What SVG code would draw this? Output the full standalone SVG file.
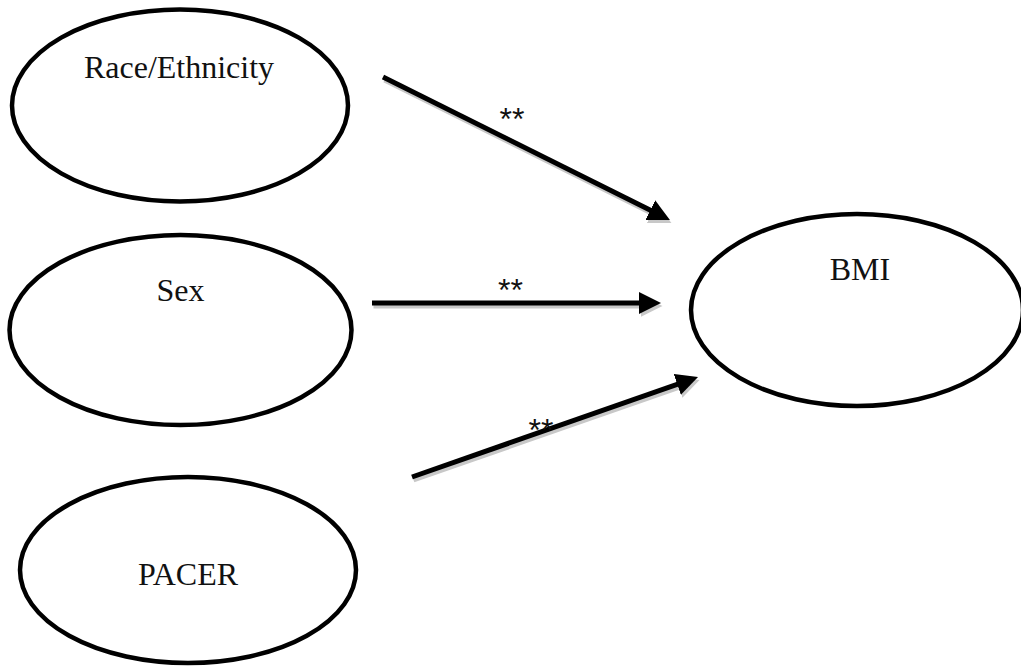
<svg xmlns="http://www.w3.org/2000/svg" width="1021" height="667" viewBox="0 0 1021 667">
<style>
.node{fill:#fff;stroke:#000;stroke-width:4.5}
.lbl{font-family:"Liberation Serif","Times New Roman",serif;font-size:32px;fill:#111;text-anchor:middle}
.star{font-family:"Liberation Sans",Arial,sans-serif;font-size:32px;fill:#111;text-anchor:middle}
.edge{stroke:#000;stroke-width:5;fill:none;marker-end:url(#ah)}
.shadow{stroke:#c8c8c8;stroke-width:5;fill:none;marker-end:url(#ahs)}
</style>
<defs>
<marker id="ah" markerUnits="strokeWidth" markerWidth="4.6" markerHeight="4.6" refX="2.4" refY="2.2" orient="auto" viewBox="0 0 4.6 4.6">
<path d="M0,0 L4.4,2.2 L0,4.4 z" fill="#000"/>
</marker>
<marker id="ahs" markerUnits="strokeWidth" markerWidth="4.6" markerHeight="4.6" refX="2.4" refY="2.2" orient="auto" viewBox="0 0 4.6 4.6">
<path d="M0,0 L4.4,2.2 L0,4.4 z" fill="#c8c8c8"/>
</marker>
</defs>
<rect width="1021" height="667" fill="#fff"/>
<g id="race">
<ellipse class="node" cx="180" cy="105.5" rx="168" ry="96"/>
<text class="lbl" x="179" y="78">Race/Ethnicity</text>
</g>
<g id="sex">
<ellipse class="node" cx="180.5" cy="330" rx="171" ry="95"/>
<text class="lbl" x="180.5" y="301">Sex</text>
</g>
<g id="pacer">
<ellipse class="node" cx="188" cy="570" rx="168" ry="93"/>
<text class="lbl" x="188" y="585">PACER</text>
</g>
<g id="bmi">
<ellipse class="node" cx="857" cy="310" rx="166" ry="96"/>
<text class="lbl" x="860" y="280">BMI</text>
</g>
<g id="connectors">
<g transform="translate(1.5,3)">
<line class="shadow" x1="383" y1="77" x2="661" y2="215.5"/>
<line class="shadow" x1="372" y1="303" x2="651" y2="303"/>
<line class="shadow" x1="412" y1="477" x2="688.6" y2="380.3"/>
</g>
<line class="edge" x1="383" y1="77" x2="661" y2="215.5"/>
<line class="edge" x1="372" y1="303" x2="651" y2="303"/>
<line class="edge" x1="412" y1="477" x2="688.6" y2="380.3"/>
<text class="star" x="512" y="130">**</text>
<text class="star" x="510.5" y="301">**</text>
<text class="star" x="541" y="441">**</text>
</g>
</svg>
